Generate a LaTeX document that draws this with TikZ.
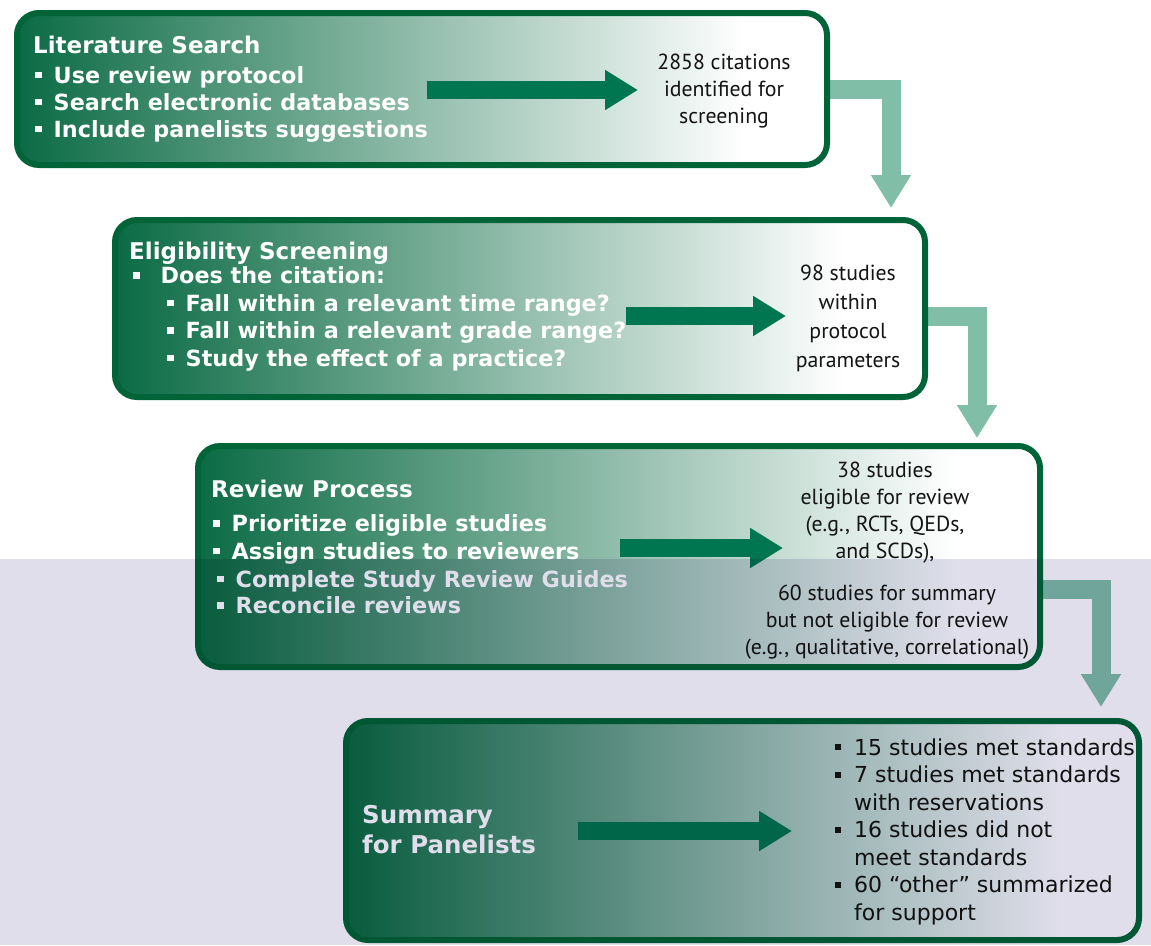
\documentclass[tikz,border=0pt]{standalone}
\usepackage{fontspec}
\setmainfont{DejaVu Sans}
\newfontfamily\countfont{PT Sans}
\usetikzlibrary{shapes, arrows.meta, positioning, backgrounds}

\definecolor{stagedark}{RGB}{11,107,69}
\definecolor{stageline}{RGB}{0,100,56}
\definecolor{flowgreen}{RGB}{0,118,80}
\definecolor{linkgreen}{RGB}{128,190,168}
\definecolor{lowshade}{RGB}{223,222,234}
\definecolor{inktext}{RGB}{20,20,20}
\pgfdeclarehorizontalshading{stagefill}{100bp}{color(0bp)=(stagedark); color(25bp)=(stagedark); color(70bp)=(white); color(100bp)=(white)}

\tikzstyle{stage} = [rectangle, rounded corners=22pt, draw=stageline, line width=6pt, shade, shading=stagefill, inner sep=0pt]
\tikzstyle{heading} = [anchor=base west, inner sep=0pt, text=white, align=left, font=\fontsize{22.3}{27.5}\selectfont\bfseries]
\tikzstyle{count} = [anchor=base, inner sep=0pt, align=center, text=inktext, font=\countfont\fontsize{21.8}{27}\selectfont]
\tikzstyle{flow} = [line width=18pt, draw=flowgreen, -{Triangle[width=38pt,length=33pt]}]
\tikzstyle{link} = [line width=19pt, draw=linkgreen, line join=miter, -{Triangle[width=38pt,length=33pt]}]
\newcommand{\sqb}{\rule[5pt]{6.5pt}{6.5pt}\hspace{12pt}}
\newcommand{\smallsqb}{\rule[5pt]{6pt}{6pt}\hspace{13pt}}

\begin{document}
\begin{tikzpicture}[x=1pt, y=-1pt]
\useasboundingbox (0,0) rectangle (1151,945);

% stages
\node (lit) [stage, minimum width=810pt, minimum height=152pt] at (422,89) {};
\node (screen) [stage, minimum width=810pt, minimum height=177pt] at (520,308.5) {};
\node (rev) [stage, minimum width=842pt, minimum height=221pt] at (619,556.5) {};
\node (summ) [stage, minimum width=793pt, minimum height=219pt] at (742.5,830.5) {};

% stage texts (multi-line nodes sit on their last baseline)
\node (littitle) [heading, font=\fontsize{23}{27.5}\selectfont\bfseries] at (33,53) {Literature Search};
\node (litlist) [heading, font=\fontsize{22.3}{27}\selectfont\bfseries] at (35,137) {\sqb Use review protocol\\ \sqb Search electronic databases\\ \sqb Include panelists suggestions};
\node (littally) [count] at (724,123) {2858 citations\\identified for\\screening};

\node (screentitle) [heading, font=\fontsize{23}{27.5}\selectfont\bfseries] at (129,259) {Eligibility Screening};
\node (screenlist) [heading] at (133,366) {\sqb\hspace{9pt}Does the citation:\\
  \hspace*{34pt}\sqb Fall within a relevant time range?\\
  \hspace*{34pt}\sqb Fall within a relevant grade range?\\
  \hspace*{34pt}\sqb Study the effect of a practice?};
\node (screentally) [count, font=\countfont\fontsize{21.8}{29}\selectfont] at (848,367) {98 studies\\within\\protocol\\parameters};

\node (revtitle) [heading, font=\fontsize{23}{27.5}\selectfont\bfseries] at (211,497) {Review Process};
\node (revlist) [heading] at (213,559) {\sqb Prioritize eligible studies\\ \sqb Assign studies to reviewers};
\node (revlist2) [heading, font=\fontsize{22.3}{26.5}\selectfont\bfseries] at (217,613.5) {\sqb Complete Study Review Guides\\ \sqb Reconcile reviews};
\node (revtally) [count] at (885,558) {38 studies\\eligible for review\\(e.g., RCTs, QEDs,\\and SCDs),};
\node (othertally) [count] at (887,654) {60 studies for summary\\but not eligible for review\\(e.g., qualitative, correlational)};

\node (summtitle) [heading, font=\fontsize{24.5}{30}\selectfont\bfseries] at (362,853) {Summary\\for Panelists};
\node (results) [anchor=base west, inner sep=0pt, align=left, text=inktext, font=\fontsize{22}{27.5}\selectfont] at (835,920) {\smallsqb 15 studies met standards\\
  \smallsqb 7 studies met standards\\ \hspace*{19pt}with reservations\\
  \smallsqb 16 studies did not\\ \hspace*{19pt}meet standards\\
  \smallsqb 60 “other” summarized\\ \hspace*{19pt}for support};

% arrows inside the stages
\coordinate (f1a) at (427,90);  \coordinate (f1b) at (638,90);
\coordinate (f2a) at (626,316); \coordinate (f2b) at (786,316);
\coordinate (f3a) at (620,548); \coordinate (f3b) at (783,548);
\coordinate (f4a) at (578,831); \coordinate (f4b) at (792,831);
\draw [flow] (f1a) -- (f1b);
\draw [flow] (f2a) -- (f2b);
\draw [flow] (f3a) -- (f3b);
\draw [flow] (f4a) -- (f4b);

% links between stages
\coordinate (drop1) at (891,208);
\coordinate (drop2) at (977,438);
\coordinate (drop3) at (1101,707);
\begin{pgfonlayer}{background}
\fill [white] (0,0) rectangle (1151,945);
\draw [link] (lit.east) -| (drop1);
\draw [link] ([yshift=-7.5pt]screen.east) -| (drop2);
\draw [link] ([yshift=-32.5pt]rev.east) -| (drop3);
\end{pgfonlayer}

% lower tint
\fill [lowshade, blend mode=multiply] (0,559) rectangle (1151,945);
\end{tikzpicture}
\end{document}
